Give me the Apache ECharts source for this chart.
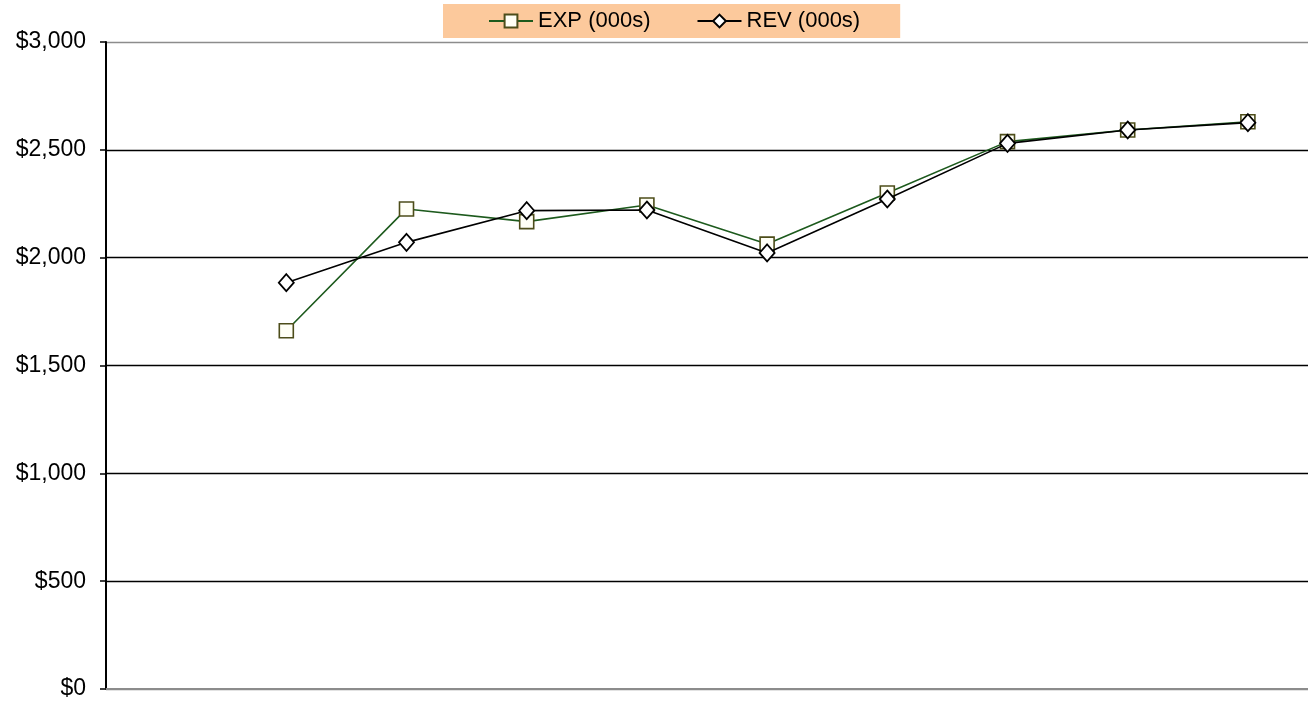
<!DOCTYPE html>
<html>
<head>
<meta charset="utf-8">
<script src="https://cdn.jsdelivr.net/npm/echarts@6/dist/echarts.min.js"></script>
<style>
  html, body { margin: 0; padding: 0; background: #ffffff; }
  #chart { width: 1308px; height: 702px; }
</style>
</head>
<body>
<div id="chart"></div>
<script>
// Periods along the x axis (the first slot is left blank)
const periods = ['', 'P1', 'P2', 'P3', 'P4', 'P5', 'P6', 'P7', 'P8', 'P9'];
// Expenses and revenue, in thousands of dollars
const expValues = [null, 1661, 2226, 2167, 2244, 2063, 2300, 2538, 2592, 2630];
const revValues = [null, 1884, 2071, 2218, 2221, 2022, 2272, 2530, 2592, 2626];
// Value axis range and step
const yMin = 0;
const yMax = 3000;
const yStep = 500;

const chart = echarts.init(document.getElementById('chart'), null, { renderer: 'canvas' });

const fontFamily = '"Liberation Sans", Arial, sans-serif';

chart.setOption({
  animation: false,
  backgroundColor: '#ffffff',
  textStyle: { fontFamily: fontFamily },
  legend: {
    left: 443,
    top: 4,
    padding: [6, 40, 6, 45],
    itemGap: 46,
    itemWidth: 44,
    itemHeight: 16,
    backgroundColor: '#fcc99c',
    textStyle: { fontSize: 22, color: '#000000', fontFamily: fontFamily },
    data: ['EXP (000s)', 'REV (000s)']
  },
  grid: { left: 106, right: 0, top: 42, bottom: 13, containLabel: false },
  xAxis: {
    type: 'category',
    data: periods,
    boundaryGap: true,
    axisLine: { show: true, lineStyle: { color: '#8c8c8c', width: 2 } },
    axisTick: { show: false },
    axisLabel: { show: false },
    splitLine: { show: false }
  },
  yAxis: {
    type: 'value',
    min: yMin,
    max: yMax,
    interval: yStep,
    axisLine: { show: true, lineStyle: { color: '#000000', width: 2 } },
    axisTick: { show: true, inside: false, length: 6, lineStyle: { color: '#000000', width: 1.5 } },
    axisLabel: {
      margin: 20,
      fontSize: 23,
      color: '#000000',
      fontFamily: fontFamily,
      formatter: function (v) { return '$' + v.toLocaleString('en-US'); }
    },
    splitLine: {
      show: true,
      lineStyle: {
        color: ['#8c8c8c', '#000000', '#000000', '#000000', '#000000', '#000000', '#8c8c8c'],
        width: 1.3
      }
    }
  },
  series: [
    {
      name: 'EXP (000s)',
      type: 'line',
      data: expValues,
      symbol: 'rect',
      symbolSize: 14,
      connectNulls: false,
      lineStyle: { color: '#1d5a1d', width: 1.6 },
      itemStyle: { color: '#fffff6', borderColor: '#4d4d1a', borderWidth: 1.6 },
      z: 2
    },
    {
      name: 'REV (000s)',
      type: 'line',
      data: revValues,
      symbol: 'diamond',
      symbolSize: [15, 17],
      connectNulls: false,
      lineStyle: { color: '#000000', width: 1.6 },
      itemStyle: { color: '#ffffff', borderColor: '#000000', borderWidth: 1.8 },
      z: 3
    }
  ]
});
</script>
</body>
</html>
